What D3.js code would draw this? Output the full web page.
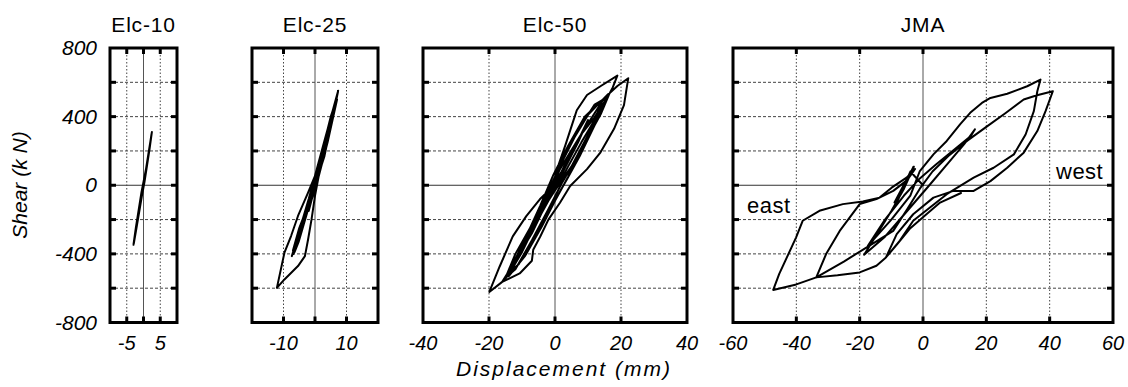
<!DOCTYPE html>
<html><head><meta charset="utf-8">
<script src="https://cdn.jsdelivr.net/npm/d3@7"></script>
<style>
html,body{margin:0;padding:0;background:#fff;}
svg{display:block;}
text{font-family:"Liberation Sans",Arial,sans-serif;fill:#000;}
</style></head>
<body>
<svg id="c" width="1128" height="387"></svg>
<script>
// ---------------- data ----------------
const panelTitles = ["Elc-10", "Elc-25", "Elc-50", "JMA"];
const xDomains = [[-10, 10], [-20, 20], [-40, 40], [-60, 60]];
const xGridValues = [[-5, 0, 5], [-10, 0, 10], [-20, 0, 20], [-40, -20, 0, 20, 40]];
const xTickLabels = [[-5, 5], [-10, 10], [-40, -20, 0, 20, 40], [-60, -40, -20, 0, 20, 40, 60]];
const yDomain = [-800, 800];
const yTickLabels = [800, 400, 0, -400, -800];
const yGridValues = [-600, -400, -200, 0, 200, 400, 600];

const elc10 = [[0,0],[1.2,150],[2.5,310],[1.8,210],[0.3,20],[-1.5,-170],[-3,-347],[-2.3,-250],[-0.6,-40],[1,120],[2.4,300],[1.6,190],[-0.2,-30],[-2.1,-250],[-2.9,-340],[-1.2,-130],[0,0]];

const elc25 = [[0,0],[3,200],[-2,-150],[5,380],[-5,-300],[7.35,551],[3,260],[-2,-80],[-7.35,-413],[-4,-230],[0,-30],[4,250],[7,500],[4.3,327],[0,20],[-3,-160],[-7,-380],[-5,-250],[-1,-60],[3,170],[7.3,545],
  [5.9,425],[4.3,327],[2.7,230],[0,55],[-2.2,-43],[-5.4,-179],[-7.6,-296],[-9.7,-393],[-12.1,-598],
  [-9.7,-549],[-5.4,-471],[-3.2,-413],[-2.2,-316],[-1.1,-199],[0,-62],[1.6,94],[3.8,269],[6,450],[7.35,551],
  [4.5,360],[1,120],[-3,-170],[-6.8,-400],[-4.5,-250],[-0.5,-20],[3.5,230],[6.8,500],
  [5,400],[2,180],[-1.5,-70],[-4,-250],[-6.5,-390],[-5.2,-330],[-2.5,-160],[0.5,40],[3,210],[5.5,400],[7,520]];

const elc50 = [[0,0],[4,150],[-3,-120],[7,260],[-6,-230],
  [-2,-40],[2,80],[6,220],[10,380],[7,250],[3,100],[0,-20],[-4,-150],[-10,-380],
  [-6,-200],[-1,-20],[1,114],[3.1,231],[5.1,349],[6.6,437],[9.7,526],[14,580],[18.9,639],
  [17.5,570],[15,480],[12,380],[8,250],[4,110],[1,0],[-2,-90],[-6,-230],[-10,-390],[-14,-520],[-16,-563],
  [-12,-440],[-7,-280],[-3,-120],[1,40],[5,200],[10,360],[15,510],[19,580],[22.2,624],
  [20.9,467],[17.9,329],[13.8,192],[9.7,94],[4.6,-4],[1.5,-102],[-2,-200],[-4.5,-300],[-6.6,-376],[-7,-440],[-10.7,-514],[-16,-563],[-19.9,-622],
  [-16.8,-475],[-12.8,-298],[-8.7,-180],[-4.6,-82],[-1,-14],[1.5,94],[4.6,192],[7.7,290],[11.7,388],[16.3,526],
  [14,420],[10,280],[6,140],[2,10],[-2,-140],[-7,-320],[-12,-490],[-15,-540],
  [-12,-400],[-7,-230],[-3,-70],[1,90],[5,250],[10,410],[16,530],
  [12.5,380],[8,210],[4,50],[0,-90],[-4,-240],[-9,-410],[-14,-530],
  [-10,-370],[-5.5,-190],[-1.5,-20],[2.5,150],[7,320],[12,470],[15.5,510],
  [12,350],[7.5,170],[3.5,30],[-1,-120],[-6,-290],[-11,-460],[-14,-510],
  [-9,-310],[-4.5,-120],[-0.5,60],[4,230],[9,400],[14.5,500],[11,330],[5,110],[0,-30]];

const jma = [[0,0],[-4,80],[-8,-90],[-3,108],[-7,-40],[-9,-100],[-5,40],[-2.9,108],
  [-6,-20],[-10,-150],[-14,-270],[-18.6,-405],
  [-12,-300],[-5,-150],[2,0],[8,130],[13,240],[16.4,326],
  [15.1,287],[10,210],[4,120],[-1,40],[-6,-60],[-12,-200],[-17.4,-353],
  [-10,-200],[-4,-60],[-1,83],[3.3,180],[7.5,258],[11.7,355],[14.9,422],[18.6,480],[21.3,509],[26.6,533],[32.9,577],[37.1,616],
  [36.1,548],[35,432],[32.4,296],[28.7,180],[22.3,102],[16,44],[7.5,-52],[2.2,-130],[-3.1,-207],[-7.3,-323],[-11.7,-421],
  [-8.3,-285],[-3.1,-169],[3.3,-72],[9.6,-33],[16,-33],[21.3,24],[26.6,102],[31.8,190],[36.1,316],[38.7,432],[41,548],
  [36,525],[31.8,500],
  [26,420],[20,340],[14,260],[8,170],[3,80],[-1,-20],[-5,-140],[-9.4,-266],[-17.9,-363],[-25,-445],[-33.7,-537],
  [-30.6,-401],[-26.3,-266],[-20,-110],[-14.7,-81],[-9.4,-33],[-5,30],[-2.5,95],
  [-5.2,44],[-9.9,-14],[-13.7,-72],[-19,-95],[-25.3,-110],[-32.7,-149],[-38,-207],[-40.1,-305],[-45.4,-517],[-47.3,-610],
  [-40,-578],[-33.7,-537],[-27,-525],[-20,-508],[-14.7,-469],[-11.7,-421],[-8,-340],[-4,-250],[1,-170],[5.4,-101],[12,-45]];

const seriesData = [elc10, elc25, elc50, jma];
const sideLabels = [{panel: 3, text: "east", x: -60, y: -120}, {panel: 3, text: "west", x: 42, y: 75}];

// ---------------- layout ----------------
const frames = [[110, 177], [252, 378], [423, 687], [733, 1113]];
const frameTop = 48, frameBottom = 322.5;
const svg = d3.select("#c");
const y = d3.scaleLinear().domain(yDomain).range([frameBottom, frameTop]);

seriesData.forEach((data, i) => {
  const [L, R] = frames[i];
  const x = d3.scaleLinear().domain(xDomains[i]).range([L, R]);
  const g = svg.append("g");

  yGridValues.forEach(v => {
    g.append("line").attr("x1", L).attr("x2", R).attr("y1", y(v)).attr("y2", y(v))
      .attr("stroke", v === 0 ? "#333" : "#444").attr("stroke-width", 1)
      .attr("stroke-dasharray", v === 0 ? null : "3,2");
  });
  xGridValues[i].forEach(v => {
    g.append("line").attr("x1", x(v)).attr("x2", x(v)).attr("y1", frameTop).attr("y2", frameBottom)
      .attr("stroke", v === 0 ? "#555" : "#444").attr("stroke-width", 1)
      .attr("stroke-dasharray", v === 0 ? null : "1.5,2");
  });

  const line = d3.line().x(d => x(d[0])).y(d => y(d[1]));
  g.append("path").datum(data).attr("d", line)
    .attr("fill", "none").attr("stroke", "#000").attr("stroke-width", 2)
    .attr("stroke-linejoin", "round").attr("stroke-linecap", "round");

  const tl = 6;
  xGridValues[i].forEach(v => {
    g.append("line").attr("x1", x(v)).attr("x2", x(v)).attr("y1", frameTop).attr("y2", frameTop + tl).attr("stroke", "#000").attr("stroke-width", 3);
    g.append("line").attr("x1", x(v)).attr("x2", x(v)).attr("y1", frameBottom).attr("y2", frameBottom - tl).attr("stroke", "#000").attr("stroke-width", 3);
  });
  yGridValues.forEach(v => {
    g.append("line").attr("x1", L).attr("x2", L + tl).attr("y1", y(v)).attr("y2", y(v)).attr("stroke", "#000").attr("stroke-width", 3);
    g.append("line").attr("x1", R).attr("x2", R - tl).attr("y1", y(v)).attr("y2", y(v)).attr("stroke", "#000").attr("stroke-width", 3);
  });

  g.append("rect").attr("x", L).attr("y", frameTop).attr("width", R - L).attr("height", frameBottom - frameTop)
    .attr("fill", "none").attr("stroke", "#000").attr("stroke-width", 3);

  g.append("text").attr("x", (L + R) / 2).attr("y", 32).attr("text-anchor", "middle")
    .attr("font-size", 21).attr("letter-spacing", 0.8).text(panelTitles[i]);

  xTickLabels[i].forEach(v => {
    g.append("text").attr("x", x(v)).attr("y", 350).attr("text-anchor", "middle")
      .attr("font-size", 20).attr("font-style", "italic").text(v);
  });

  if (i === 0) {
    yTickLabels.forEach(v => {
      g.append("text").attr("x", 97).attr("y", y(v) + 7).attr("text-anchor", "end")
        .attr("font-size", 21).attr("font-style", "italic").text(v);
    });
  }

  sideLabels.filter(s => s.panel === i).forEach(s => {
    g.append("text").attr("x", x(s.x) + (s.text === "east" ? 14 : 0)).attr("y", y(s.y) + 7)
      .attr("text-anchor", "start").attr("letter-spacing", 0.5)
      .attr("font-size", 22).text(s.text);
  });
});

svg.append("text").attr("x", 564).attr("y", 376).attr("text-anchor", "middle")
  .attr("font-size", 21).attr("font-style", "italic").attr("letter-spacing", 2).text("Displacement (mm)");
svg.append("text").attr("transform", "translate(27,185) rotate(-90)").attr("text-anchor", "middle")
  .attr("font-size", 21).attr("font-style", "italic").text("Shear (k N)");
</script>
</body></html>
